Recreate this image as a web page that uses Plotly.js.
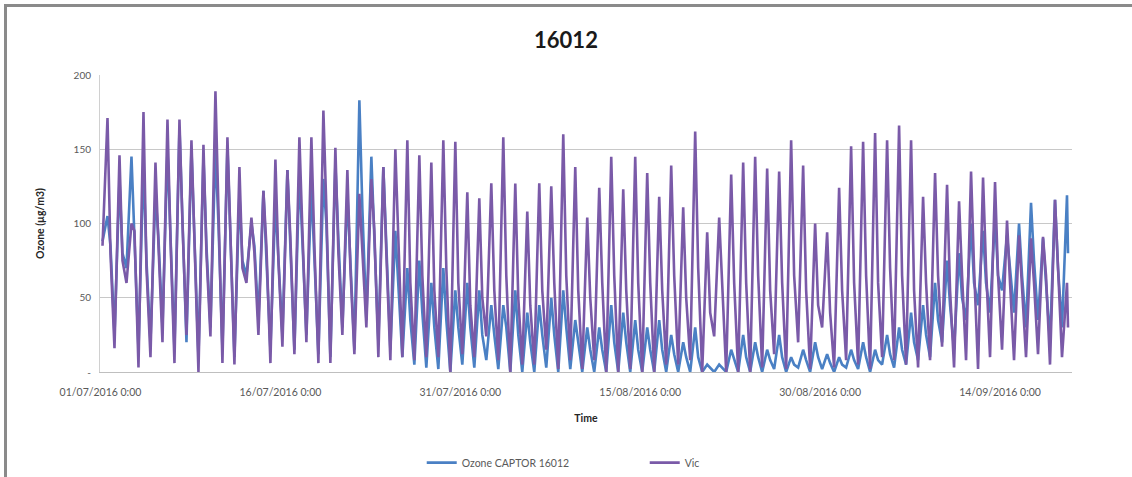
<!DOCTYPE html>
<html>
<head>
<meta charset="utf-8">
<script src="https://cdn.plot.ly/plotly-3.0.1.min.js"></script>
<style>
  html, body { margin: 0; padding: 0; background: #ffffff; overflow: hidden; }
  #frame { position: absolute; left: 0; top: 0; width: 1132px; height: 477px; overflow: hidden; }
  #border { position: absolute; left: 4px; top: 4px; width: 1200px; height: 500px;
            border-top: 3px solid #8a8a8a; border-left: 3px solid #8a8a8a; pointer-events: none; }
  #chart { position: absolute; left: 0; top: 0; width: 1132px; height: 477px; }
</style>
</head>
<body>
<div id="frame">
  <div id="chart"></div>
  <div id="border"></div>
</div>
<script>
// Day index 0 = 01/07/2016. Daily early-morning trough, afternoon peak and evening values.
const startDate = "2016-07-01";
const vicTrough = [85,16,60,3,10,20,6,25,0,24,6,5,60,25,6,17,12,20,6,6,25,12,30,10,8,10,8,10,10,0,12,10,24,8,0,5,5,15,2,8,2,8,0,0,2,0,0,5,5,8,0,24,0,0,0,3,12,2,20,2,30,3,8,5,2,10,8,5,3,8,17,3,8,2,10,15,8,10,12,5,10];
const vicPeak   = [171,146,100,175,141,170,170,156,153,189,158,138,104,122,143,136,158,158,176,151,136,120,130,138,150,156,146,141,156,155,121,117,127,158,127,108,127,125,160,138,104,124,145,123,145,134,118,139,111,162,94,104,133,141,145,137,135,156,139,100,94,124,152,155,161,156,166,156,118,134,126,115,135,131,128,102,92,90,91,116,60];
const vicEvening = [80,75,95,70,85,90,100,95,80,110,90,70,80,85,75,90,95,85,110,80,70,85,95,80,90,60,65,55,70,60,45,50,55,65,50,45,55,60,65,55,50,60,65,55,60,60,55,65,50,70,40,55,60,60,65,55,60,65,55,45,40,55,60,65,60,70,65,55,60,65,55,65,70,70,65,60,55,60,65,70,30];
const captorTrough = [88,25,70,15,20,30,15,20,10,30,15,10,65,35,15,25,15,25,12,10,30,15,35,20,15,10,5,3,2,0,5,3,8,2,0,0,0,3,0,2,0,0,0,0,0,0,0,0,0,0,0,0,0,0,0,0,2,0,3,0,2,0,3,2,0,5,3,5,8,10,20,15,35,45,40,55,40,30,35,20,30];
const captorPeak   = [105,130,145,141,120,150,165,150,145,150,152,120,100,122,115,136,135,125,130,140,120,183,145,138,95,70,75,60,70,55,60,55,45,45,55,40,45,50,55,35,30,30,45,40,35,30,35,25,20,30,5,5,15,25,20,15,25,10,15,20,12,10,15,20,15,25,30,40,45,60,75,80,100,95,105,92,100,114,90,116,119];
const captorEvening = [85,80,90,75,90,95,100,90,85,100,95,75,85,80,80,85,90,80,100,90,75,110,90,85,60,35,40,30,35,30,30,25,25,30,25,20,25,25,30,20,15,15,20,20,15,15,15,12,10,10,3,3,8,10,10,8,10,5,8,10,6,5,8,10,8,12,15,20,25,35,45,50,60,60,65,70,65,75,60,70,80];
const seriesNames = ["Ozone CAPTOR 16012", "Vic"];
const tickLabels = ["01/07/2016 0:00","16/07/2016 0:00","31/07/2016 0:00","15/08/2016 0:00","30/08/2016 0:00","14/09/2016 0:00"];
const tickDays = [0,15,30,45,60,75];
const yTickVals = [0,50,100,150,200];
const yTickText = ["-","50","100","150","200"];

const t0 = Date.parse(startDate + "T00:00:00Z");
const HOUR = 3600e3;
function toTime(day, hour) { return t0 + (day * 24 + hour) * HOUR; }
function build(trough, peak, evening) {
  const x = [], y = [];
  const last = peak.length - 1;
  for (let d = 0; d <= last; d++) {
    x.push(toTime(d, 4)); y.push(trough[d]);
    x.push(toTime(d, 14)); y.push(peak[d]);
    if (d < last) { x.push(toTime(d, 20)); y.push(evening[d]); }
  }
  x.push(toTime(last, 16)); y.push(evening[last]);
  return {x, y};
}
const cap = build(captorTrough, captorPeak, captorEvening);
const vic = build(vicTrough, vicPeak, vicEvening);

const traces = [
  { x: cap.x, y: cap.y, type: "scatter", mode: "lines", name: seriesNames[0],
    line: { color: "#4a80c4", width: 2.6 } },
  { x: vic.x, y: vic.y, type: "scatter", mode: "lines", name: seriesNames[1],
    line: { color: "#7a5aa8", width: 2.6 } }
];

const layout = {
  width: 1132, height: 477,
  paper_bgcolor: "#ffffff", plot_bgcolor: "#ffffff",
  margin: { l: 100, r: 60, t: 75, b: 105, autoexpand: false },
  font: { family: "Lato, 'Liberation Sans', sans-serif", color: "#595959", size: 10 },
  title: { text: "<b>16012</b>", x: 0.5, xanchor: "center", y: 0.915, yanchor: "middle",
           font: { family: "Lato, 'Liberation Sans', sans-serif", size: 22, color: "#1a1a1a" } },
  xaxis: {
    type: "date", automargin: false,
    range: [toTime(0, -1), toTime(81, 0)],
    tickvals: tickDays.map(d => toTime(d, 0)),
    ticktext: tickLabels,
    tickfont: { size: 10.5, color: "#595959" },
    showgrid: false, zeroline: false,
    showline: true, linecolor: "#bfbfbf", linewidth: 1,
    ticks: "", ticklen: 0, ticklabelstandoff: 10,
    title: { text: "<b>Time</b>", font: { size: 10.5, color: "#262626" }, standoff: 18 }
  },
  yaxis: {
    range: [0, 200], automargin: false,
    tickvals: yTickVals, ticktext: yTickText,
    tickfont: { size: 10, color: "#595959" },
    showgrid: true, gridcolor: "#c8c8c8", gridwidth: 1,
    zeroline: false, showline: true, linecolor: "#d0d0d0", linewidth: 1,
    ticks: "", ticklabelstandoff: 6,
    title: { text: "<b>Ozone (µg/m3)</b>", font: { size: 10.5, color: "#262626" }, standoff: 26 }
  },
  legend: {
    orientation: "h", x: 0.331, xanchor: "left", y: -0.305, yanchor: "middle",
    font: { size: 10.5, color: "#595959" }, entrywidth: 178, entrywidthmode: "pixels"
  },
  showlegend: true
};

Plotly.newPlot("chart", traces, layout, { staticPlot: true, displayModeBar: false });
</script>
</body>
</html>
